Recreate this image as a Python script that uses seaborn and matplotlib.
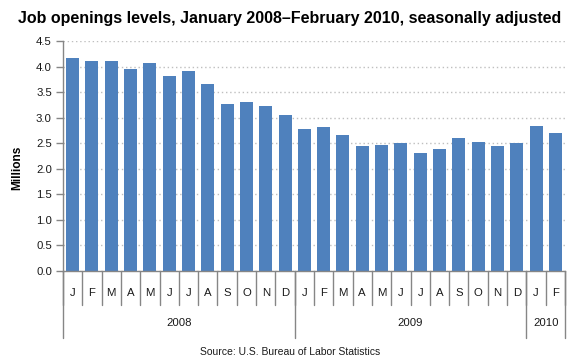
import matplotlib
matplotlib.use("Agg")
import matplotlib.pyplot as plt
import matplotlib.transforms as mtransforms
import seaborn as sns
import pandas as pd

months = ["J", "F", "M", "A", "M", "J", "J", "A", "S", "O", "N", "D",
          "J", "F", "M", "A", "M", "J", "J", "A", "S", "O", "N", "D",
          "J", "F"]
years = ["2008"] * 12 + ["2009"] * 12 + ["2010"] * 2
openings = [4.17, 4.11, 4.11, 3.95, 4.07, 3.82, 3.92, 3.66, 3.27, 3.31, 3.23, 3.05,
            2.78, 2.82, 2.66, 2.45, 2.47, 2.51, 2.31, 2.39, 2.60, 2.52, 2.45, 2.51,
            2.84, 2.70]
year_labels = ["2008", "2009", "2010"]
yticks = [0.0, 0.5, 1.0, 1.5, 2.0, 2.5, 3.0, 3.5, 4.0, 4.5]

df = pd.DataFrame({"idx": list(range(len(openings))), "month": months,
                   "year": years, "value": openings})

sns.set_theme(style="white")
plt.rcParams["font.family"] = ["Liberation Sans", "DejaVu Sans"]

fig = plt.figure(figsize=(5.8, 3.6), dpi=100)
ax = fig.add_axes([63 / 580, (360 - 271) / 360, (565 - 63) / 580, (271 - 41) / 360])

sns.barplot(data=df, x="idx", y="value", color="#4F81BD", saturation=1,
            width=0.67, ax=ax, edgecolor="none")

ax.set_xlim(-0.5, len(openings) - 0.5)
ax.set_ylim(0, 4.5)
ax.set_yticks(yticks)
ax.set_yticklabels([f"{v:.1f}" for v in yticks], fontsize=8.2, color="#1a1a1a")
ax.yaxis.grid(True, linestyle=(0, (1, 2)), color="#BFBFBF", linewidth=1)
ax.set_axisbelow(True)
ax.tick_params(axis="y", length=5, color="#868686", width=1, direction="out", pad=3, left=True)

ax.set_xticks(range(len(months)))
ax.set_xticklabels(months, fontsize=8.2, color="#1a1a1a")
ax.tick_params(axis="x", length=0, pad=12)

for s in ["top", "right"]:
    ax.spines[s].set_visible(False)
for s in ["left", "bottom"]:
    ax.spines[s].set_color("#868686")
    ax.spines[s].set_linewidth(1)

ax.set_xlabel("")
ax.set_ylabel("")
fig.text(17 / 580, 1 - 168 / 360, "Millions", rotation=90, ha="center", va="center",
         fontsize=8.6, fontweight="bold", color="#000000")

trans = mtransforms.blended_transform_factory(ax.transData, ax.transAxes)
# month separators
for i in range(len(months) + 1):
    ax.plot([i - 0.5, i - 0.5], [0, -0.148], transform=trans, color="#868686",
            linewidth=1, clip_on=False)
# year separators and labels
starts = []
pos = 0
for y in year_labels:
    n = years.count(y)
    starts.append((pos, n))
    pos += n
for (p, n), y in zip(starts, year_labels):
    ax.plot([p - 0.5, p - 0.5], [0, -0.29], transform=trans, color="#868686",
            linewidth=1, clip_on=False)
    ax.text(p + (n - 1) / 2, -0.227, y, transform=trans, ha="center", va="center",
            fontsize=8.2, color="#1a1a1a")
ax.plot([pos - 0.5, pos - 0.5], [0, -0.29], transform=trans, color="#868686",
        linewidth=1, clip_on=False)

fig.text(290 / 580, 1 - 18 / 360, "Job openings levels, January 2008\u2013February 2010, seasonally adjusted",
         ha="center", va="center", fontsize=11.5, fontweight="bold", color="#000000")
fig.text(290 / 580, 1 - 352 / 360, "Source: U.S. Bureau of Labor Statistics",
         ha="center", va="center", fontsize=7.5, color="#1a1a1a")

fig.savefig("out.png", dpi=100)
